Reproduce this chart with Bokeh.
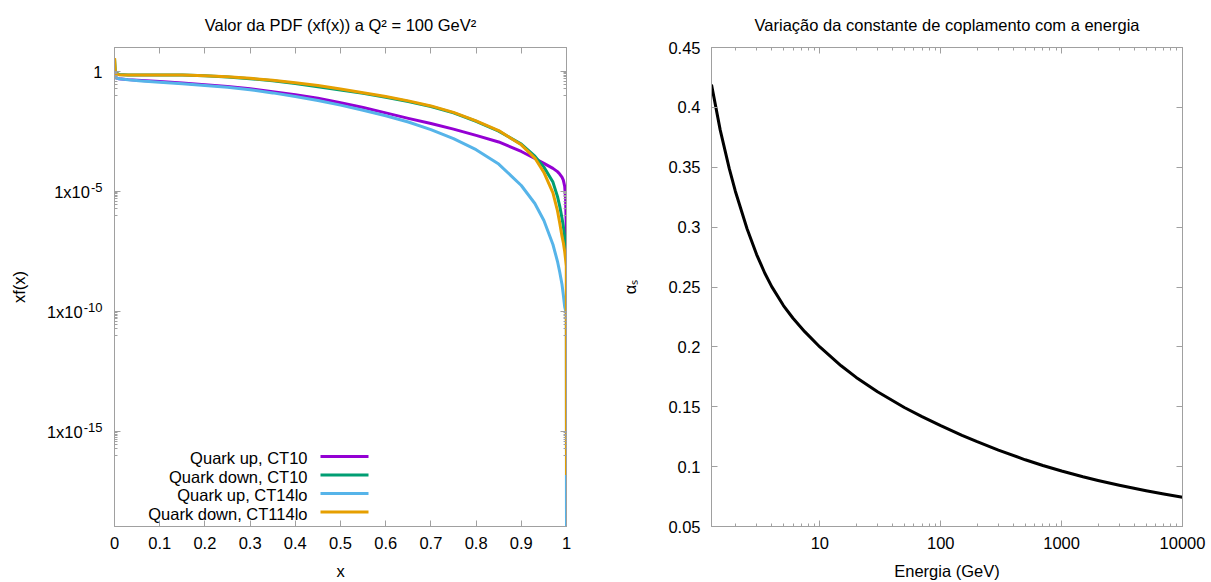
import math
from bokeh.plotting import figure
from bokeh.layouts import row
from bokeh.models import (FixedTicker, LinearAxis, LogAxis, Range1d, Label,
                          BoxAnnotation, CustomJSTickFormatter)
from bokeh.core.properties import value
from bokeh.embed import file_html
from bokeh.resources import INLINE

# ---------------- data ----------------
x_pdf = [0.0002, 0.002, 0.01, 0.03, 0.06, 0.1, 0.15, 0.2, 0.25, 0.3, 0.35, 0.4,
         0.45, 0.5, 0.55, 0.6, 0.65, 0.7, 0.75, 0.8, 0.85, 0.9, 0.93, 0.95,
         0.97, 0.98, 0.985, 0.99, 0.993, 0.996, 0.998, 0.9995, 1.0]

up_ct10 = [0.79, 0.56, 0.50, 0.46, 0.42, 0.38, 0.33, 0.28, 0.24, 0.19, 0.145, 0.107,
           0.078, 0.050, 0.032, 0.019, 0.0112, 6.9e-3, 4.0e-3, 2.2e-3, 1.17e-3, 4.7e-4,
           2.4e-4, 1.5e-4, 9.3e-5, 6.8e-5, 5.4e-5, 4.0e-5, 3.0e-5, 1.66e-5, 5.0e-6,
           3.2e-7, 4.0e-8]

down_ct10 = [3.2, 0.89, 0.76, 0.72, 0.72, 0.72, 0.71, 0.66, 0.59, 0.50, 0.41, 0.32,
             0.23, 0.17, 0.123, 0.085, 0.056, 0.035, 0.019, 8.5e-3, 3.3e-3, 9.5e-4,
             3.0e-4, 1.05e-4, 2.5e-5, 6.3e-6, 2.5e-6, 8.0e-7, 3.6e-7, 1.26e-7, 6.3e-8,
             3.2e-8, 2.5e-8]

up_ct14lo = [0.71, 0.55, 0.50, 0.45, 0.40, 0.355, 0.31, 0.26, 0.22, 0.174, 0.129, 0.091,
             0.062, 0.040, 0.0245, 0.0145, 7.9e-3, 3.8e-3, 1.6e-3, 5.6e-4, 1.4e-4,
             1.8e-5, 3.2e-6, 6.3e-7, 6.3e-8, 1.26e-8, 4.5e-9, 1.4e-9, 5.0e-10,
             1.6e-10, 1.1e-10, 8.0e-11, 1.0e-20]

down_ct114lo = [3.6, 0.83, 0.74, 0.72, 0.72, 0.72, 0.71, 0.66, 0.60, 0.52, 0.43, 0.34,
                0.26, 0.186, 0.132, 0.091, 0.060, 0.037, 0.020, 8.9e-3, 3.5e-3, 8.9e-4,
                2.5e-4, 6.3e-5, 8.9e-6, 1.6e-6, 5.0e-7, 1.4e-7, 7.4e-8, 3.2e-8, 1.5e-8,
                7.9e-9, 1.6e-17]

series_names = ["Quark up, CT10", "Quark down, CT10", "Quark up, CT14lo", "Quark down, CT114lo"]
series_colors = ["#9400d3", "#009e73", "#56b4e9", "#e69f00"]

energy = [1.27, 1.5, 1.78, 2.0, 2.5, 3.0, 3.5, 4.0, 5.0, 6.0, 7.5, 10, 15, 20, 30,
          50, 70, 100, 150, 200, 300, 500, 700, 1000, 1500, 2000, 3000, 5000,
          7000, 10000]
alpha_s = [0.419, 0.381, 0.349, 0.330, 0.2986, 0.2771, 0.2617, 0.2503, 0.2345,
           0.2239, 0.2127, 0.1999, 0.1842, 0.1745, 0.1625, 0.1494, 0.1418, 0.1342,
           0.1261, 0.1208, 0.1138, 0.1057, 0.1009, 0.0963, 0.0915, 0.0884, 0.0844,
           0.0798, 0.0771, 0.0744]

x_ticks = [0, 0.1, 0.2, 0.3, 0.4, 0.5, 0.6, 0.7, 0.8, 0.9, 1.0]
pdf_y_ticks = [1, 1e-5, 1e-10, 1e-15]
pdf_y_mantissa = ["1", "1x10", "1x10", "1x10"]
pdf_y_exponents = ["", "-5", "-10", "-15"]
energy_ticks = [10, 100, 1000, 10000]
alpha_ticks = [0.05, 0.1, 0.15, 0.2, 0.25, 0.3, 0.35, 0.4, 0.45]

# ---------------- styling helpers ----------------
FONT = "Liberation Sans"
GRAY = "#a0a0a0"
FS = "16.5px"
FS_SUP = 13
blank_fmt = CustomJSTickFormatter(code="return '';")
PDF_YR = (1.15e-19, 10)


def style_axis(ax, show_labels=True):
    ax.axis_line_color = GRAY
    ax.major_tick_line_color = GRAY
    ax.minor_tick_line_color = GRAY
    ax.major_tick_in = 6
    ax.major_tick_out = 0
    ax.minor_tick_in = 3
    ax.minor_tick_out = 0
    ax.major_label_text_font = FONT
    ax.major_label_text_color = "#000000"
    ax.major_label_text_font_size = FS
    ax.axis_label_text_font = FONT
    ax.axis_label_text_font_size = FS
    ax.axis_label_text_font_style = "normal"
    ax.axis_label_text_color = "#000000"
    if not show_labels:
        ax.formatter = blank_fmt
        ax.major_label_standoff = 0


def style_fig(p, title):
    p.grid.visible = False
    p.outline_line_color = GRAY
    p.title.text = title
    p.title.align = "center"
    p.title.text_font = FONT
    p.title.text_font_size = FS
    p.title.text_font_style = "normal"
    p.title.text_color = "#000000"
    p.title.standoff = 27
    p.background_fill_color = "white"
    p.border_fill_color = "white"


def txt(**kw):
    base = dict(text_font=FONT, text_font_size=FS, text_color="#000000")
    base.update(kw)
    return Label(**base)


# ---------------- left strip: y tick labels "1x10^-n" and y axis title ----------------
FRAME_LEFT = 114
STRIP_W = 108
y_range_pdf = Range1d(*PDF_YR)
pl = figure(width=STRIP_W, height=582, y_axis_type="log",
            x_range=Range1d(0, STRIP_W), y_range=y_range_pdf,
            x_axis_location=None, y_axis_location=None,
            output_backend="svg", toolbar_location=None,
            min_border_left=0, min_border_right=0,
            min_border_top=47, min_border_bottom=54)
pl.grid.visible = False
pl.outline_line_color = None
pl.background_fill_color = "white"
pl.border_fill_color = "white"

LAB_RIGHT = FRAME_LEFT - 12       # right edge of the tick labels (12 px from the frame)
exp_w = [FS_SUP * (0.333 + 0.556 * (len(e) - 1)) if e else 0 for e in pdf_y_exponents]
pl.text(x=[LAB_RIGHT - w - (1 if w else 0) for w in exp_w], y=pdf_y_ticks,
        text=pdf_y_mantissa, text_align="right", text_baseline="middle",
        text_font=value(FONT), text_font_size=FS, text_color="#000000")
pl.text(x=[LAB_RIGHT] * 3, y=pdf_y_ticks[1:], text=pdf_y_exponents[1:],
        text_align="right", text_baseline="bottom",
        text_font=value(FONT), text_font_size=f"{FS_SUP}px", text_color="#000000")
pl.text(x=[18], y=[math.sqrt(PDF_YR[0] * PDF_YR[1])], text=["xf(x)"], angle=math.pi / 2,
        text_align="center", text_baseline="middle",
        text_font=value(FONT), text_font_size=FS, text_color="#000000")

# ---------------- left panel ----------------
log_minor = [k * t / 10 for t in pdf_y_ticks for k in range(1, 10)]
num_fmt1 = CustomJSTickFormatter(code="return String(parseFloat(tick.toFixed(1)));")

p1 = figure(width=605 - STRIP_W, height=582, y_axis_type="log",
            x_range=Range1d(0, 1), y_range=y_range_pdf,
            output_backend="svg", toolbar_location=None,
            min_border_left=FRAME_LEFT - STRIP_W, min_border_right=39,
            min_border_top=47, min_border_bottom=54)
style_fig(p1, "Valor da PDF (xf(x)) a Q\u00b2 = 100 GeV\u00b2")

p1.xaxis.ticker = FixedTicker(ticks=x_ticks, minor_ticks=[])
p1.xaxis.formatter = num_fmt1
p1.xaxis.axis_label = "x"
p1.yaxis.ticker = FixedTicker(ticks=pdf_y_ticks, minor_ticks=log_minor)
style_axis(p1.xaxis[0])
style_axis(p1.yaxis[0], show_labels=False)
p1.xaxis.major_label_standoff = 10
p1.xaxis.axis_label_standoff = 10

top1 = LinearAxis(ticker=FixedTicker(ticks=x_ticks, minor_ticks=[]))
style_axis(top1, show_labels=False)
p1.add_layout(top1, "above")
right1 = LogAxis(ticker=FixedTicker(ticks=pdf_y_ticks, minor_ticks=log_minor))
style_axis(right1, show_labels=False)
p1.add_layout(right1, "right")

for ys, col in zip([up_ct10, down_ct10, up_ct14lo, down_ct114lo], series_colors):
    p1.line(x_pdf, ys, line_color=col, line_width=3, line_join="round")

# legend drawn gnuplot-style: right-aligned text, sample line to the right
leg_rows = [70, 51.5, 33, 14.5]
for name, col, yy in zip(series_names, series_colors, leg_rows):
    p1.add_layout(txt(x=193, y=yy - 1.5, x_units="screen", y_units="screen", text=name,
                      text_align="right", text_baseline="middle"))
    p1.add_layout(BoxAnnotation(left=206, right=254, bottom=yy - 1.5, top=yy + 1.5,
                                left_units="screen", right_units="screen",
                                bottom_units="screen", top_units="screen",
                                fill_color=col, fill_alpha=1.0, line_color=None))

# ---------------- right panel ----------------
e_minor = [k * 10 ** m for m in range(0, 4) for k in range(2, 10)]
int_fmt = CustomJSTickFormatter(code="return String(Math.round(tick));")
num_fmt2 = CustomJSTickFormatter(code="return String(parseFloat(tick.toFixed(2)));")

p2 = figure(width=606, height=582, x_axis_type="log",
            x_range=Range1d(1.27, 10000), y_range=Range1d(0.05, 0.45),
            output_backend="svg", toolbar_location=None,
            min_border_left=106, min_border_right=29,
            min_border_top=47, min_border_bottom=54)
style_fig(p2, "Varia\u00e7\u00e3o da constante de coplamento com a energia")

p2.xaxis.ticker = FixedTicker(ticks=energy_ticks, minor_ticks=e_minor)
p2.xaxis.formatter = int_fmt
p2.xaxis.axis_label = "Energia (GeV)"
p2.yaxis.ticker = FixedTicker(ticks=alpha_ticks, minor_ticks=[])
p2.yaxis.formatter = num_fmt2
p2.yaxis.axis_label = "\u03b1\u209b"
style_axis(p2.xaxis[0])
style_axis(p2.yaxis[0])
p2.xaxis.major_label_standoff = 10
p2.xaxis.axis_label_standoff = 10
p2.yaxis.major_label_standoff = 11
p2.yaxis.axis_label_standoff = 26

top2 = LogAxis(ticker=FixedTicker(ticks=energy_ticks, minor_ticks=e_minor))
style_axis(top2, show_labels=False)
p2.add_layout(top2, "above")
right2 = LinearAxis(ticker=FixedTicker(ticks=alpha_ticks, minor_ticks=[]))
style_axis(right2, show_labels=False)
p2.add_layout(right2, "right")

p2.line(energy, alpha_s, line_color="#000000", line_width=3, line_join="round")

layout = row(pl, p1, p2, spacing=0)
open("out.html", "w").write(file_html(layout, INLINE))
